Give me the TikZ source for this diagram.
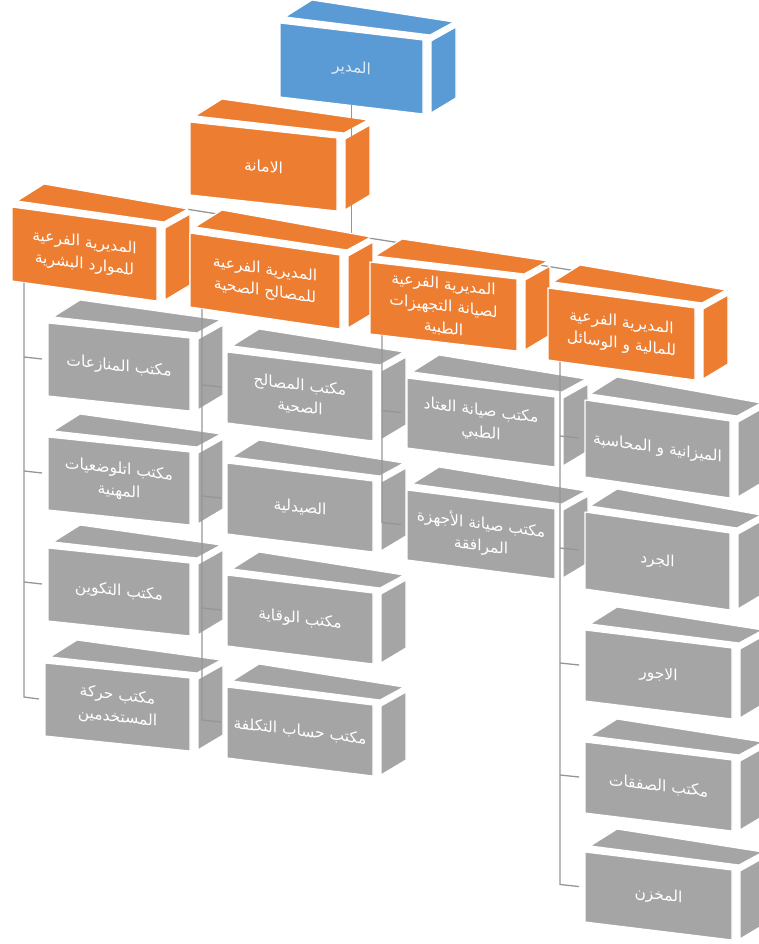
\documentclass[tikz,border=0pt]{standalone}
\usepackage{fontspec}
\usetikzlibrary{calc}
\newfontfamily\arabicfont[Script=Arabic]{DejaVu Sans}
\TeXXeTstate=1
\newcommand\ar[1]{\beginR #1\endR}
\definecolor{cblue}{RGB}{91,155,213}
\definecolor{corange}{RGB}{237,125,49}
\definecolor{cgray}{RGB}{165,165,165}
\definecolor{cline}{RGB}{150,150,150}
\definecolor{ctxtblue}{RGB}{222,234,246}
\tikzset{
  face/.style={fill=#1, draw=white, line width=1.2pt, line join=round},
  conn/.style={draw=cline, line width=1.3pt},
  lbl/.style={text=white, font=\arabicfont\fontsize{15.5}{22}\selectfont, align=center, inner sep=0pt}
}
% \cubeback{name}{x}{y}{w}{h}{dy}{color}
\newcommand\cubeback[7]{%
  \coordinate (#1-A) at (#2,#3);
  \coordinate (#1-B) at ({#2+#4},{#3+#6});
  \coordinate (#1-C) at ({#2+#4},{#3+#6+#5});
  \coordinate (#1-D) at (#2,{#3+#5});
  \coordinate (#1-L) at (#2,{#3+#5/2});
  \coordinate (#1-stem) at ({#2+12},{#3+#5+12*#6/#4});
  \path[face=#7] ($(#1-A)+(5,-6)$) -- ($(#1-A)+(32,-23)$) -- ($(#1-B)+(31,-18)$) -- ($(#1-B)+(7,-5)$) -- cycle;
  \path[face=#7] ($(#1-B)+(8,1)$) -- ($(#1-B)+(33,-13)$) -- ($(#1-C)+(33,-16)$) -- ($(#1-C)+(8,-1)$) -- cycle;
}
% \cubefront{name}{color}{slant}{text}
\newcommand\cubefront[4]{%
  \path[face=#2] (#1-A) -- (#1-B) -- (#1-C) -- (#1-D) -- cycle;
  \node[lbl, yslant=#3] (#1) at ($(#1-A)!0.5!(#1-C)$) {#4};
}
% tick from a stem to a child
\newcommand\tick[2]{%
  \draw[conn] ($(#1 |- #2-L)+(0,-2.5)$) -- ($(#2-L)+(-6,-0.5)$);
}
\begin{document}
\begin{tikzpicture}[x=1pt,y=-1pt]
\useasboundingbox (0,0) rectangle (759,944);
% bus line behind level-2 boxes
\coordinate (bus-l) at (85,193);
\coordinate (bus-r) at (621,278);
\coordinate (bus-m) at (351.5,235);
\draw[conn] (bus-l) -- (bus-r);
% director and secretariat
\cubeback{dir}{280}{23}{143}{74}{17}{cblue}
\cubefront{dir}{cblue}{-0.12}{\textcolor{ctxtblue}{\ar{المدير}}}
\cubeback{am}{190}{122}{147}{73}{16}{corange}
\cubefront{am}{corange}{-0.11}{\ar{الامانة}}
\coordinate (dir-bot) at ($(dir-D)!0.5!(dir-C)$);
\draw[conn] (dir-bot) -- (bus-m);
% level 2
\cubeback{l2a}{12}{207}{145}{74}{20}{corange}
\cubefront{l2a}{corange}{-0.13}{\ar{المديرية الفرعية}\\\ar{للموارد البشرية}}
\cubeback{l2b}{190}{233}{150}{74}{22}{corange}
\cubefront{l2b}{corange}{-0.14}{\ar{المديرية الفرعية}\\\ar{للمصالح الصحية}}
\cubeback{l2c}{370}{262}{147}{72}{17}{corange}
\cubefront{l2c}{corange}{-0.12}{\ar{المديرية الفرعية}\\\ar{لصيانة التجهيزات}\\\ar{الطبية}}
\cubeback{l2d}{548}{288}{147}{72}{20}{corange}
\cubefront{l2d}{corange}{-0.13}{\ar{المديرية الفرعية}\\\ar{للمالية و الوسائل}}
% children: side faces
\cubeback{c1a}{48}{323}{142}{73}{15}{cgray}
\cubeback{c1b}{48}{437}{142}{73}{15}{cgray}
\cubeback{c1c}{48}{548}{142}{73}{15}{cgray}
\cubeback{c1d}{45}{663}{145}{73}{15}{cgray}
\cubeback{c2a}{227}{352}{146}{71}{18}{cgray}
\cubeback{c2b}{227}{463}{146}{71}{18}{cgray}
\cubeback{c2c}{227}{575}{146}{71}{18}{cgray}
\cubeback{c2d}{227}{687}{146}{71}{18}{cgray}
\cubeback{c3a}{407}{378}{148}{70}{19}{cgray}
\cubeback{c3b}{407}{490}{148}{70}{19}{cgray}
\cubeback{c4a}{585}{400}{145}{77}{21}{cgray}
\cubeback{c4b}{585}{512}{145}{77}{21}{cgray}
\cubeback{c4c}{585}{630}{147}{71}{18}{cgray}
\cubeback{c4d}{585}{742}{147}{71}{18}{cgray}
\cubeback{c4e}{585}{852}{147}{70}{18}{cgray}
% connectors
\draw[conn] (l2a-stem) -- ($(l2a-stem |- c1d-L)+(0,-2.5)$) -- ($(c1d-L)+(-6,-0.5)$);
\tick{l2a-stem}{c1a}\tick{l2a-stem}{c1b}\tick{l2a-stem}{c1c}
\draw[conn] (l2b-stem) -- ($(l2b-stem |- c2d-L)+(0,-2.5)$) -- ($(c2d-L)+(-6,-0.5)$);
\tick{l2b-stem}{c2a}\tick{l2b-stem}{c2b}\tick{l2b-stem}{c2c}
\draw[conn] (l2c-stem) -- ($(l2c-stem |- c3b-L)+(0,-2.5)$) -- ($(c3b-L)+(-6,-0.5)$);
\tick{l2c-stem}{c3a}
\draw[conn] (l2d-stem) -- ($(l2d-stem |- c4e-L)+(0,-2.5)$) -- ($(c4e-L)+(-6,-0.5)$);
\tick{l2d-stem}{c4a}\tick{l2d-stem}{c4b}\tick{l2d-stem}{c4c}\tick{l2d-stem}{c4d}
% children: front faces
\cubefront{c1a}{cgray}{-0.11}{\ar{مكتب المنازعات}}
\cubefront{c1b}{cgray}{-0.11}{\ar{مكتب اتلوضعيات}\\\ar{المهنية}}
\cubefront{c1c}{cgray}{-0.11}{\ar{مكتب التكوين}}
\cubefront{c1d}{cgray}{-0.11}{\ar{مكتب حركة}\\\ar{المستخدمين}}
\cubefront{c2a}{cgray}{-0.12}{\ar{مكتب المصالح}\\\ar{الصحية}}
\cubefront{c2b}{cgray}{-0.12}{\ar{الصيدلية}}
\cubefront{c2c}{cgray}{-0.12}{\ar{مكتب الوقاية}}
\cubefront{c2d}{cgray}{-0.12}{\ar{مكتب حساب التكلفة}}
\cubefront{c3a}{cgray}{-0.13}{\ar{مكتب صيانة العتاد}\\\ar{الطبي}}
\cubefront{c3b}{cgray}{-0.13}{\ar{مكتب صيانة الأجهزة}\\\ar{المرافقة}}
\cubefront{c4a}{cgray}{-0.14}{\ar{الميزانية و المحاسبة}}
\cubefront{c4b}{cgray}{-0.14}{\ar{الجرد}}
\cubefront{c4c}{cgray}{-0.12}{\ar{الاجور}}
\cubefront{c4d}{cgray}{-0.12}{\ar{مكتب الصفقات}}
\cubefront{c4e}{cgray}{-0.12}{\ar{المخزن}}
\end{tikzpicture}
\end{document}
